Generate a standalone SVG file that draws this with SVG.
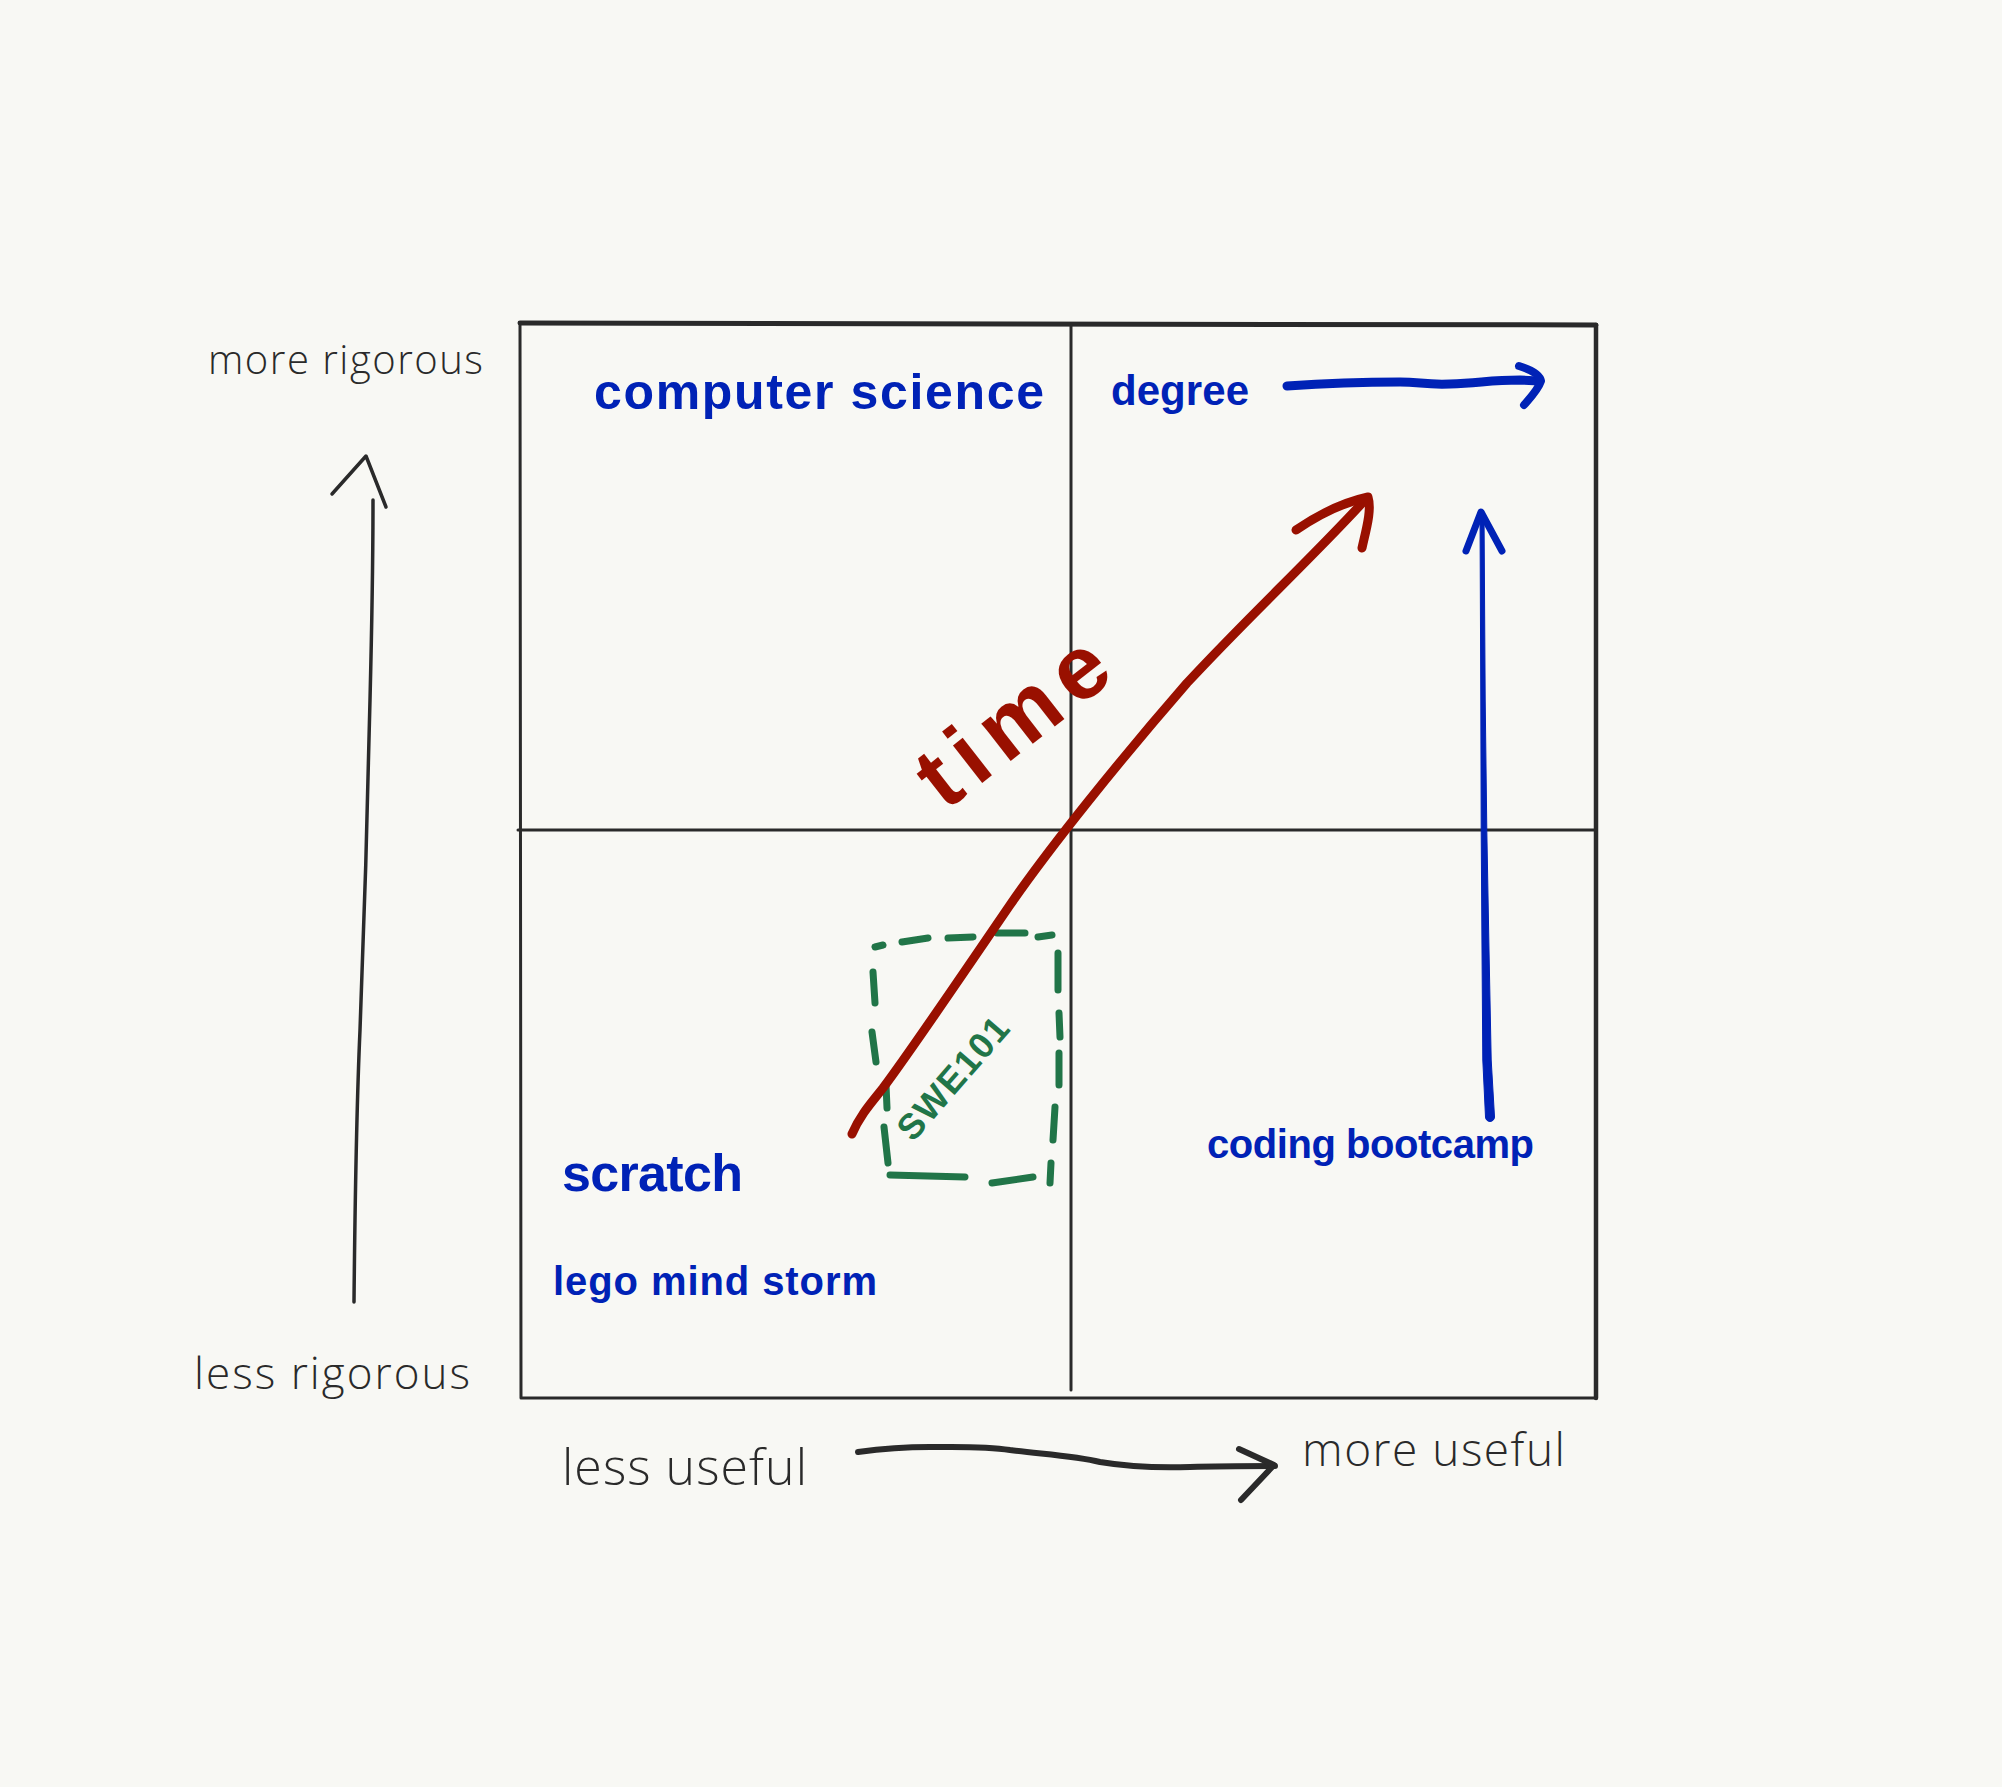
<svg xmlns="http://www.w3.org/2000/svg" width="2002" height="1787" viewBox="0 0 2002 1787">
  <style>
    .ink { fill: none; stroke: #2a2a2a; stroke-linecap: round; stroke-linejoin: round; }
    .blue { fill: none; stroke: #0022b6; stroke-linecap: round; stroke-linejoin: round; }
    .red { fill: none; stroke: #991000; stroke-linecap: round; stroke-linejoin: round; }
    .dash { fill: none; stroke: #217548; stroke-width: 7; stroke-linecap: round; }
    .axis-label { font-family: "Open Sans", "Liberation Sans", sans-serif; font-weight: 300; fill: #2a2a2a; }
    .item { font-family: "Liberation Sans", "Open Sans", sans-serif; font-weight: bold; fill: #0022b6; }
  </style>

  <rect width="2002" height="1787" fill="#f8f8f4"/>

  <!-- quadrant frame -->
  <g id="frame">
    <path class="ink" d="M520 323 L1596 325" stroke-width="5"/>
    <path class="ink" d="M1596 325 L1596 1398" stroke-width="4.5"/>
    <path class="ink" d="M520 323 L521 1398 L1596 1398" stroke-width="3"/>
    <path class="ink" d="M1071 325 L1071 1390" stroke-width="3"/>
    <path class="ink" d="M518 830 L1596 830" stroke-width="3"/>
  </g>

  <!-- axis labels -->
  <g id="label-more-rigorous"><text class="axis-label" x="208" y="374" font-size="40" textLength="275" lengthAdjust="spacing">more rigorous</text></g>
  <g id="label-less-rigorous"><text class="axis-label" x="194" y="1389" font-size="44" textLength="276" lengthAdjust="spacing">less rigorous</text></g>
  <g id="label-less-useful"><text class="axis-label" x="562" y="1485" font-size="50" textLength="245" lengthAdjust="spacing">less useful</text></g>
  <g id="label-more-useful"><text class="axis-label" x="1302" y="1466" font-size="46" textLength="263" lengthAdjust="spacing">more useful</text></g>

  <!-- quadrant items -->
  <g id="computer-science"><text class="item" x="594" y="409" font-size="50" textLength="450" lengthAdjust="spacing">computer science</text></g>
  <g id="degree"><text class="item" x="1111" y="405" font-size="42" textLength="138" lengthAdjust="spacing">degree</text></g>
  <g id="scratch"><text class="item" x="562" y="1191" font-size="52" textLength="181" lengthAdjust="spacing">scratch</text></g>
  <g id="lego-mind-storm"><text class="item" x="553" y="1295" font-size="40" textLength="324" lengthAdjust="spacing">lego mind storm</text></g>
  <g id="coding-bootcamp"><text class="item" x="1207" y="1158" font-size="40" textLength="327" lengthAdjust="spacing">coding bootcamp</text></g>

  <!-- SWE101 dashed box -->
  <g id="swe101">
    <path class="dash" d="M875 947 L883 945 M902 942 L928 938 M948 938 L973 937 M997 933 L1025 933 M1038 937 L1052 935"/>
    <path class="dash" d="M1058 953 L1058 990 M1059 1013 L1060 1037 M1059 1053 L1059 1085 M1055 1107 L1053 1140 M1051 1163 L1050 1183"/>
    <path class="dash" d="M873 972 L875 1003 M872 1032 L876 1062 M886 1085 L887 1108 M884 1127 L888 1163"/>
    <path class="dash" d="M890 1175 L965 1177 M992 1183 L1033 1177"/>
    <text transform="translate(913 1143) rotate(-49)" font-family="Liberation Sans, sans-serif" font-weight="bold" font-size="36" fill="#217548" textLength="150" lengthAdjust="spacing">SWE101</text>
  </g>

  <!-- time label -->
  <g id="time">
    <text transform="translate(945 812) rotate(-38)" font-family="Liberation Sans, sans-serif" font-weight="bold" font-size="90" fill="#991000" textLength="218" lengthAdjust="spacing">time</text>
  </g>

  <g id="connectors">
    <!-- vertical axis arrow -->
    <path class="ink" stroke-width="3.5" d="M354 1302 C355 1200 356 1120 360 1030 C364 930 368 800 370 700 C372 620 373 560 373 500"/>
    <path class="ink" stroke-width="3.5" d="M332 494 L366 456 L386 507"/>
    <!-- horizontal axis arrow -->
    <path class="ink" stroke-width="6" d="M858 1452 C880 1449 900 1447 930 1447 C960 1447 985 1446 1010 1450 C1040 1454 1075 1456 1100 1462 C1130 1467 1160 1468 1190 1467 C1220 1466 1250 1466 1275 1466"/>
    <path class="ink" stroke-width="6" d="M1239 1449 L1274 1465 L1241 1500"/>
    <!-- degree arrow -->
    <path class="blue" stroke-width="9" d="M1287 386 C1330 383 1370 382 1400 382 C1420 382 1425 385 1450 384 C1480 383 1490 380 1520 380 L1539 381"/>
    <path class="blue" stroke-width="8" d="M1519 366 C1532 370 1540 375 1541 381 C1538 390 1530 398 1524 405"/>
    <!-- bootcamp arrow: tapered pen stroke, thin at the head, heavy at the foot -->
    <path fill="#0022b6" stroke="#0022b6" stroke-width="1" stroke-linejoin="round"
          d="M1480 512 L1480.8 700 L1481.2 830 L1482 950 L1482.8 1060 L1485.5 1117 A4.5 4.5 0 0 0 1494.5 1117 L1491.2 1060 L1489 950 L1486.8 830 L1485.2 700 L1484 512 Z"/>
    <path class="blue" stroke-width="7" d="M1466 551 L1481 512 L1502 551"/>
    <!-- time arrow -->
    <path class="red" stroke-width="9" d="M852 1134 C860 1115 872 1102 883 1088 C910 1052 945 1000 1010 905 C1050 847 1120 760 1187 683 C1250 615 1310 560 1365 500"/>
    <path class="red" stroke-width="9" d="M1296 530 C1318 515 1345 502 1368 497 C1372 510 1366 530 1362 548"/>
  </g>
</svg>
